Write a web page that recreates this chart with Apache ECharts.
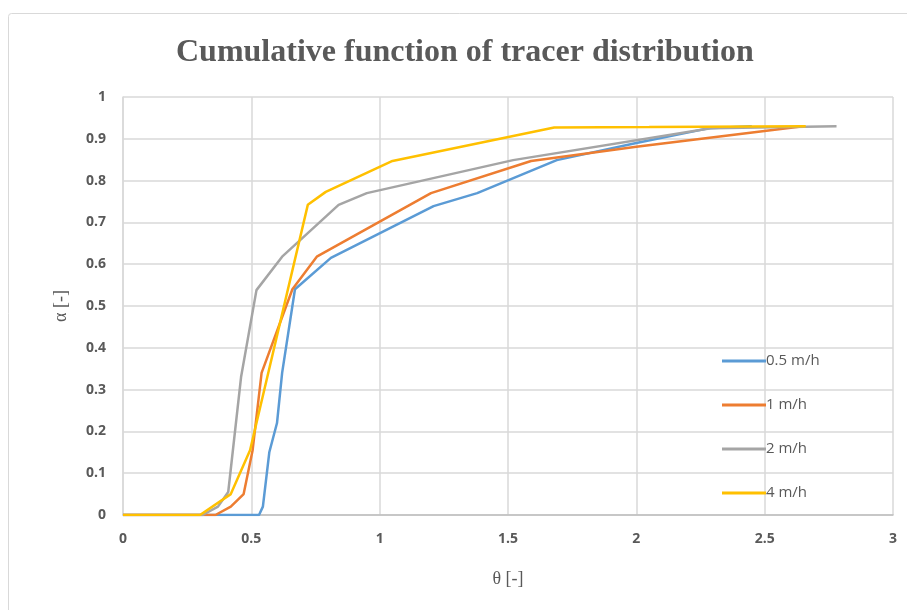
<!DOCTYPE html>
<html>
<head>
<meta charset="utf-8">
<script src="https://cdn.jsdelivr.net/npm/echarts@6/dist/echarts.min.js"></script>
<style>html,body{margin:0;padding:0;background:#fff;}#c{width:907px;height:610px;}</style>
</head>
<body>
<div id="c"></div>
<script>
var seriesNames = ['0.5 m/h', '1 m/h', '2 m/h', '4 m/h'];
var xTicks = ['0', '0.5', '1', '1.5', '2', '2.5', '3'];

var x05 = [0, 0.53, 0.545, 0.57, 0.60, 0.62, 0.67, 0.81, 1.21, 1.38, 1.69, 2.0, 2.28, 2.45];
var y05 = [0, 0, 0.02, 0.15, 0.22, 0.34, 0.54, 0.615, 0.739, 0.77, 0.849, 0.89, 0.925, 0.93];

var x1 = [0, 0.36, 0.42, 0.47, 0.505, 0.54, 0.66, 0.755, 1.2, 1.59, 2.0, 2.65];
var y1 = [0, 0, 0.02, 0.05, 0.155, 0.34, 0.54, 0.618, 0.77, 0.847, 0.881, 0.93];

var x2 = [0, 0.31, 0.37, 0.41, 0.46, 0.52, 0.62, 0.84, 0.95, 1.52, 2.29, 2.78];
var y2 = [0, 0, 0.02, 0.055, 0.33, 0.538, 0.618, 0.742, 0.77, 0.849, 0.925, 0.93];

var x4 = [0, 0.30, 0.42, 0.495, 0.72, 0.79, 1.05, 1.68, 2.05, 2.66];
var y4 = [0, 0, 0.05, 0.155, 0.742, 0.773, 0.847, 0.927, 0.928, 0.93];

var colors = ['#5B9BD5', '#ED7D31', '#A5A5A5', '#FFC000'];

function zip(xs, ys) { return xs.map(function (v, i) { return [v, ys[i]]; }); }
var allX = [x05, x1, x2, x4];
var allY = [y05, y1, y2, y4];

var chart = echarts.init(document.getElementById('c'));
chart.setOption({
  animation: false,
  backgroundColor: '#fff',
  graphic: [{
    type: 'rect', shape: { x: 8.5, y: 13.5, width: 920, height: 620, r: 3 },
    style: { fill: 'none', stroke: '#d9d9d9', lineWidth: 1 }, silent: true, z: -10
  }],
  title: {
    text: 'Cumulative function of tracer distribution',
    left: 171, top: 32,
    textStyle: { fontFamily: 'Liberation Serif', fontWeight: 'bold', fontSize: 32, color: '#595959' }
  },
  grid: { left: 123, top: 97, width: 770, height: 418, containLabel: false },
  legend: {
    orient: 'vertical', left: 717, top: 347,
    itemWidth: 44, itemHeight: 3, itemGap: 26,
    icon: 'rect',
    textStyle: { fontFamily: 'Open Sans', fontSize: 15, lineHeight: 18, color: '#595959', padding: [0, 0, 0, -5] },
    data: seriesNames.map(function (n, i) { return { name: n, itemStyle: { color: colors[i] } }; })
  },
  xAxis: {
    type: 'value', min: 0, max: 3, interval: 0.5,
    name: 'θ [-]', nameLocation: 'middle', nameGap: 55,
    nameTextStyle: { fontFamily: 'Liberation Serif', fontSize: 18, color: '#595959' },
    axisLine: { show: true, lineStyle: { color: '#bfbfbf', width: 1.5 } },
    axisTick: { show: false },
    axisLabel: { margin: 17, fontFamily: 'Open Sans', fontWeight: 'bold', fontSize: 14, color: '#595959',
      formatter: function (v) { return xTicks[Math.round(v / 0.5)]; } },
    splitLine: { show: true, lineStyle: { color: '#d9d9d9', width: 1.5 } }
  },
  yAxis: {
    type: 'value', min: 0, max: 1, interval: 0.1,
    name: 'α [-]', nameLocation: 'middle', nameGap: 53, nameRotate: 90,
    nameTextStyle: { fontFamily: 'Liberation Serif', fontSize: 18, color: '#595959' },
    axisLine: { show: true, lineStyle: { color: '#d9d9d9', width: 1.5 } },
    axisTick: { show: false },
    axisLabel: { margin: 17, fontFamily: 'Open Sans', fontWeight: 'bold', fontSize: 14, color: '#595959' },
    splitLine: { show: true, lineStyle: { color: '#d9d9d9', width: 1.5 } }
  },
  series: seriesNames.map(function (n, i) {
    return {
      name: n, type: 'line', data: zip(allX[i], allY[i]),
      symbol: 'none', showSymbol: false, smooth: false,
      lineStyle: { color: colors[i], width: 2.5 },
      itemStyle: { color: colors[i] },
      z: 2 + i
    };
  })
});
</script>
</body>
</html>
